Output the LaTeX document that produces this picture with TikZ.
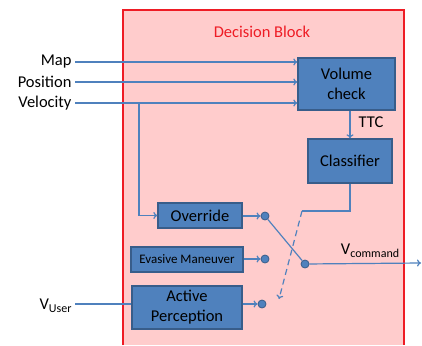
\documentclass[tikz,border=0pt]{standalone}
\usepackage{fontspec}
\setmainfont{Carlito}
\usetikzlibrary{calc,arrows.meta}
\definecolor{boxblue}{HTML}{4F81BD}
\definecolor{boxedge}{HTML}{385D8A}
\definecolor{blockfill}{HTML}{FFCCCC}
\definecolor{blockred}{HTML}{EE1C25}
\newcommand{\mainsize}{\fontsize{16.5}{20}\selectfont}

\begin{document}
\begin{tikzpicture}[x=1pt,y=-1pt,>={To[length=4pt,width=7pt]},
    wire/.style={boxblue, line width=1.2pt},
    blk/.style={draw=boxedge, fill=boxblue, line width=1.3pt, inner sep=0pt, align=center, font=\mainsize},
    pin/.style={circle, draw=boxedge, fill=boxblue, line width=0.8pt, inner sep=0pt, minimum size=8pt}]
        \useasboundingbox (0,0) rectangle (422,345);

        % decision block
        \fill[blockfill] (123,10) rectangle (404,345);
        \draw[blockred, line width=1.3pt] (123,345) -- (123,10) -- (404,10) -- (404,345);
        \node[text=blockred, font=\mainsize] (title) at (262,32) {Decision Block};

        % boxes
        \node[blk, minimum width=97pt, minimum height=52pt] (vol) at (346.5,84) {Volume\\check};
        \node[blk, minimum width=84pt, minimum height=44pt] (cls) at (350,161) {Classifier};
        \node[blk, minimum width=84pt, minimum height=25pt] (ovr) at (200,215.5) {Override};
        \node[blk, minimum width=112pt, minimum height=25pt, font=\fontsize{13}{15}\selectfont] (eva) at (187,259.5) {Evasive Maneuver};
        \node[blk, minimum width=110pt, minimum height=43pt] (act) at (187,307.5) {Active\\Perception};

        % switch contacts
        \node[pin] (pOvr) at (265,216) {};
        \node[pin] (pEva) at (265,259) {};
        \node[pin] (pAct) at (262,304) {};
        \node[pin] (pOut) at (305,264) {};

        % inputs
        \foreach \name/\y in {Map/62, Position/82, Velocity/103} {
            \node[anchor=east, font=\mainsize] (in\name) at (75,\y) {\name};
            \draw[wire,->] (in\name.east) -- (vol.west |- in\name.east);
        }
        \coordinate (vbr) at (139,103);
        \draw[wire,->] (vbr) |- (ovr.west);

        \node[anchor=east, font=\mainsize] (vuser) at (75,306) {V\raisebox{-0.35ex}{\fontsize{12}{14}\selectfont User}};
        \coordinate (uin) at (75,304);
        \draw[wire] (uin) -- (act.west |- uin);

        % TTC and classifier
        \draw[wire,->] (cls.north |- vol.south) -- (cls.north);
        \node[font=\mainsize] (ttc) at (371,122) {TTC};
        \coordinate (cbend) at (302,211);
        \coordinate (cend) at (279,299);
        \draw[wire] (cls.south) |- (cbend);
        \draw[wire,dash pattern=on 6pt off 4pt,->] (cbend) -- (cend);

        % contacts
        \draw[wire,->] (ovr.east |- pOvr) -- (pOvr);
        \draw[wire,->] (eva.east |- pEva) -- (pEva);
        \draw[wire,->] (act.east |- pAct) -- (pAct);
        \draw[wire] (pOvr) -- (pOut);

        % output
        \coordinate (vout) at (421,263);
        \draw[wire,->] (pOut) -- (vout);
        \node[font=\mainsize] (vcmd) at (370,251) {V\raisebox{-0.35ex}{\fontsize{12}{14}\selectfont command}};
\end{tikzpicture}
\end{document}
